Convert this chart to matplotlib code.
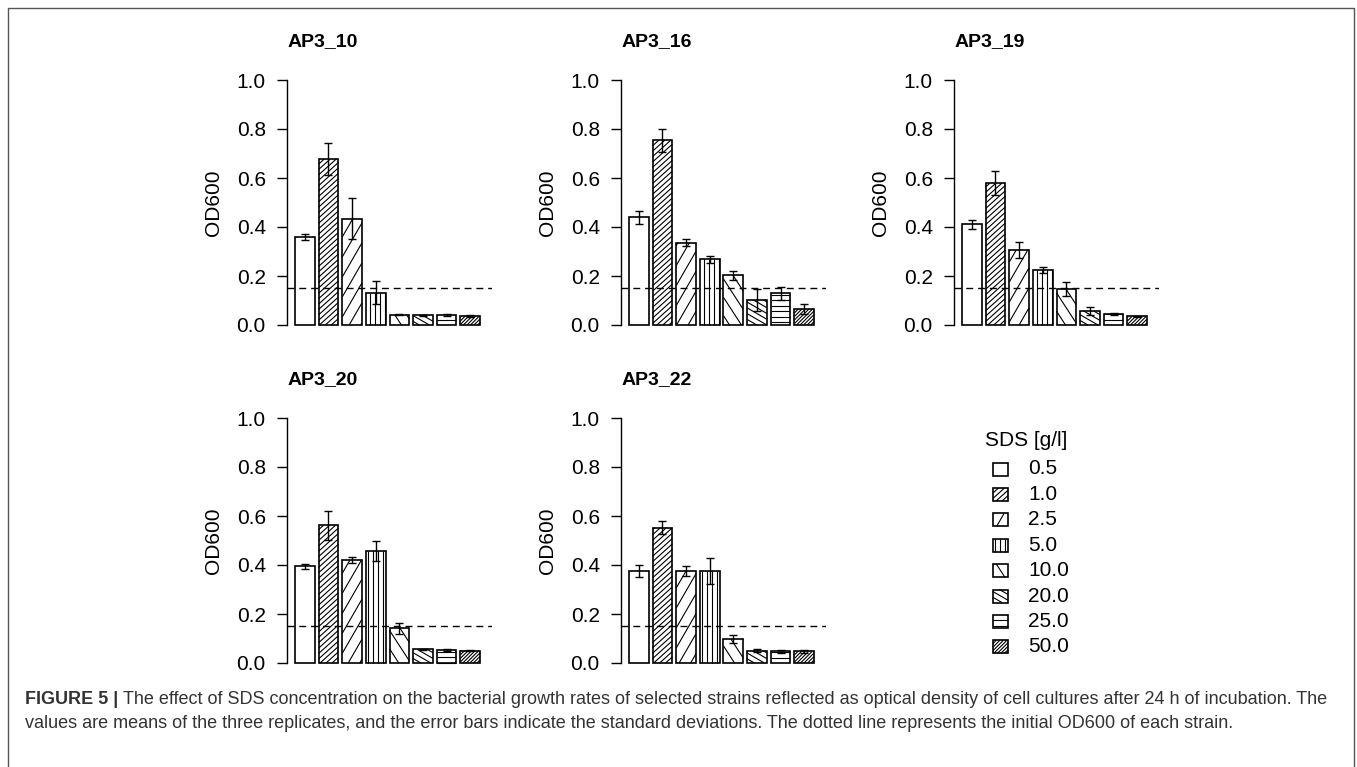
import numpy as np
import matplotlib
matplotlib.use("Agg")
import matplotlib.pyplot as plt
from matplotlib.collections import LineCollection
from matplotlib.patches import Rectangle
from matplotlib.transforms import IdentityTransform

# --- data ---
strains = ["AP3_10", "AP3_16", "AP3_19", "AP3_20", "AP3_22"]
sds_levels = ["0.5", "1.0", "2.5", "5.0", "10.0", "20.0", "25.0", "50.0"]

od_ap3_10 = [0.360, 0.677, 0.434, 0.132, 0.042, 0.039, 0.040, 0.037]
sd_ap3_10 = [0.013, 0.065, 0.083, 0.048, 0.003, 0.003, 0.005, 0.003]
od_ap3_16 = [0.439, 0.754, 0.336, 0.268, 0.203, 0.102, 0.129, 0.065]
sd_ap3_16 = [0.026, 0.047, 0.014, 0.015, 0.019, 0.046, 0.027, 0.019]
od_ap3_19 = [0.411, 0.578, 0.306, 0.224, 0.147, 0.057, 0.046, 0.035]
sd_ap3_19 = [0.018, 0.049, 0.034, 0.011, 0.030, 0.015, 0.005, 0.003]
od_ap3_20 = [0.394, 0.562, 0.420, 0.458, 0.141, 0.056, 0.053, 0.051]
sd_ap3_20 = [0.012, 0.060, 0.013, 0.041, 0.023, 0.003, 0.003, 0.002]
od_ap3_22 = [0.375, 0.553, 0.374, 0.377, 0.098, 0.050, 0.048, 0.047]
sd_ap3_22 = [0.023, 0.025, 0.020, 0.053, 0.016, 0.006, 0.006, 0.005]
initial_od = 0.15

means = [od_ap3_10, od_ap3_16, od_ap3_19, od_ap3_20, od_ap3_22]
sds = [sd_ap3_10, sd_ap3_16, sd_ap3_19, sd_ap3_20, sd_ap3_22]

caption_bold = "FIGURE 5 | "
caption_1 = ("The effect of SDS concentration on the bacterial growth rates of selected strains "
             "reflected as optical density of cell cultures after 24 h of incubation. The")
caption_2 = ("values are means of the three replicates, and the error bars indicate the standard "
             "deviations. The dotted line represents the initial OD600 of each strain.")

# hatch per SDS level: (angle in degrees, spacing in pixels), None = empty
hatches = [None, (42, 4.0), (60, 10.0), (90, 5.0), (-57, 10.0), (-30, 5.0), (0, 5.5), (45, 2.5)]

W, H = 1357, 767
FONT = "Liberation Sans"
plt.rcParams["font.family"] = [FONT, "DejaVu Sans"]

fig = plt.figure(figsize=(W / 100, H / 100), dpi=100)


def px_axes(left, top, width, height):
    return fig.add_axes([left / W, 1 - (top + height) / H, width / W, height / H])


def clip_segment(c, d, r, x0, x1, y0, y1):
    # clip the line c + t*d, t in [-r, r], to an axis-aligned box
    lo, hi = -r, r
    for ci, di, a, b in ((c[0], d[0], x0, x1), (c[1], d[1], y0, y1)):
        if abs(di) < 1e-9:
            if ci < a or ci > b:
                return None
            continue
        t1, t2 = sorted(((a - ci) / di, (b - ci) / di))
        lo, hi = max(lo, t1), min(hi, t2)
    if hi <= lo:
        return None
    return [c + lo * d, c + hi * d]


def add_hatch(ax, patch, spec, lw=0.8):
    # draw R-style angled shading lines inside a patch (display coordinates)
    if spec is None:
        return
    angle, step = spec
    bb = patch.get_window_extent()
    cx, cy = (bb.x0 + bb.x1) / 2, (bb.y0 + bb.y1) / 2
    r = np.hypot(bb.width, bb.height) / 2 + step
    t = np.radians(angle)
    d = np.array([np.cos(t), np.sin(t)])
    n = np.array([-np.sin(t), np.cos(t)])
    segs = []
    for p in np.arange(-r, r + step, step):
        c = np.array([cx, cy]) + p * n
        seg = clip_segment(c, d, 2 * r, bb.x0, bb.x1, bb.y0, bb.y1)
        if seg is not None:
            segs.append(seg)
    lc = LineCollection(segs, colors="black", linewidths=lw,
                        transform=IdentityTransform(), zorder=2.5)
    lc.set_clip_on(False)
    ax.add_collection(lc, autolim=False)


panel_pos = [(287.4, 80), (621.4, 80), (954.4, 80), (287.4, 418), (621.4, 418)]
ax_w, ax_h = 204.2, 245

n = len(sds_levels)
x = 0.2 + 1.2 * np.arange(n) + 0.5
xmin, xmax = 0.2 - 0.04 * 9.6, 9.8 + 0.04 * 9.6

for k, name in enumerate(strains):
    left, top = panel_pos[k]
    ax = px_axes(left, top, ax_w, ax_h)
    ax.set_xlim(xmin, xmax)
    ax.set_ylim(0, 1)

    bars = ax.bar(x, means[k], width=1.0, color="white", edgecolor="black",
                  linewidth=1.2, zorder=2)
    for b in bars:
        b.set_clip_on(False)
    for b, spec in zip(bars, hatches):
        add_hatch(ax, b, spec)
    ax.errorbar(x, means[k], yerr=sds[k], fmt="none", ecolor="black",
                elinewidth=1.0, capsize=3, capthick=1.0, zorder=3)
    ax.axhline(initial_od, color="black", lw=1.0, dashes=(5, 3.5), zorder=4)

    for s in ["top", "right", "bottom"]:
        ax.spines[s].set_visible(False)
    ax.spines["left"].set_bounds(0, 1)
    ax.spines["left"].set_linewidth(1.0)
    ax.set_xticks([])
    ax.set_yticks([0, 0.2, 0.4, 0.6, 0.8, 1.0])
    ax.set_yticklabels(["0.0", "0.2", "0.4", "0.6", "0.8", "1.0"])
    ax.tick_params(axis="y", length=7.5, width=1.0, pad=8, labelsize=15)
    ax.patch.set_visible(False)

    ax.text(-74 / ax_w, 0.5, "OD600", transform=ax.transAxes, rotation=90,
            ha="center", va="center", fontsize=15)
    ax.text(0.003, 1 + 38 / ax_h, name, transform=ax.transAxes,
            ha="left", va="center", fontsize=14, fontweight="bold")

# overlay in pixel coordinates for legend, caption and frame
ov = fig.add_axes([0, 0, 1, 1])
ov.set_xlim(0, W)
ov.set_ylim(H, 0)
ov.axis("off")
ov.patch.set_visible(False)

# legend
ov.text(1026, 440, "SDS [g/l]", ha="center", va="center", fontsize=15)
for i, lab in enumerate(sds_levels):
    yc = 469 + 25.4 * i
    sw = Rectangle((993, yc - 6.5), 15, 13, facecolor="white", edgecolor="black", lw=1.2)
    ov.add_patch(sw)
    add_hatch(ov, sw, hatches[i], lw=0.8)
    ov.text(1028, yc, lab, ha="left", va="center", fontsize=15)

# frame
ov.plot([8, 8, 1354, 1354], [H + 5, 8, 8, H + 5], color="#555555", lw=1.0,
        clip_on=False)

# caption, sized so the first line runs from x=25 to x=1334 like the original
cap_font = "Liberation Sans"
renderer = fig.canvas.get_renderer()
probe_b = ov.text(0, 0, caption_bold, fontsize=10, fontweight="bold", family=cap_font)
probe_n = ov.text(0, 0, caption_1, fontsize=10, family=cap_font)
w10 = probe_b.get_window_extent(renderer).width + probe_n.get_window_extent(renderer).width
probe_b.remove()
probe_n.remove()
cap_size = 10 * (1334 - 25) / w10

t_bold = ov.text(25, 700, caption_bold, ha="left", va="center", fontsize=cap_size,
                 fontweight="bold", color="#333333", family=cap_font)
bold_w = t_bold.get_window_extent(renderer).width
ov.text(25 + bold_w, 700, caption_1, ha="left", va="center", fontsize=cap_size,
        color="#333333", family=cap_font)
ov.text(25, 724, caption_2, ha="left", va="center", fontsize=cap_size,
        color="#333333", family=cap_font)

fig.savefig("out.png", dpi=100)
